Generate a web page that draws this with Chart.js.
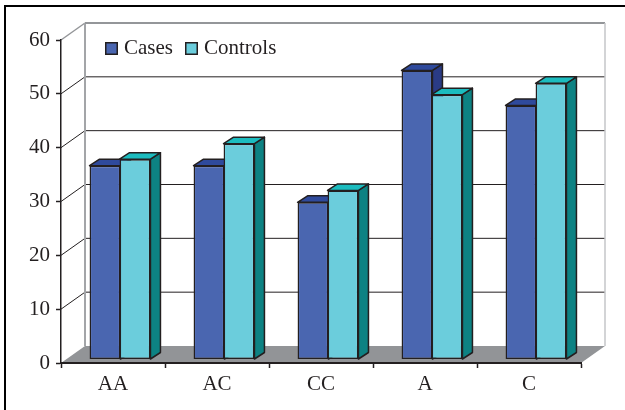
<!DOCTYPE html>
<html>
<head>
<meta charset="utf-8">
<script src="https://cdn.jsdelivr.net/npm/chart.js@4"></script>
<style>
html, body { margin: 0; padding: 0; background: #fff; overflow: hidden; }
canvas { position: absolute; left: 0; top: 0; }
#frame { position: absolute; left: 4px; top: 5px; right: 0; bottom: 0; border-left: 2px solid #000; border-top: 2px solid #000; }
</style>
</head>
<body>
<canvas id="myChart" width="625" height="410"></canvas>
<div id="frame"></div>
<script>
const categories = ['AA', 'AC', 'CC', 'A', 'C'];
const cases = [36, 36, 29.2, 53.7, 47.2];
const controls = [37.2, 40.1, 31.4, 49.2, 51.3];

const ink = '#231f20';
// wall depth, and how far the bars stand in from the front edge of the floor
const wallDepth = { x: 24, y: -17 };
const barShift = { x: 7, y: -3.5 };
const barDepth = { x: 10, y: -6.5 };
const faces = [
    { top: '#2f4a9c', side: '#2a3b85' },
    { top: '#1cbcbf', side: '#0d8283' }
];

function poly(ctx, pts, fill, stroke, width) {
    ctx.beginPath();
    pts.forEach((p, i) => i ? ctx.lineTo(p[0], p[1]) : ctx.moveTo(p[0], p[1]));
    ctx.closePath();
    if (fill) {
        ctx.fillStyle = fill;
        ctx.fill();
    }
    if (stroke) {
        ctx.strokeStyle = stroke;
        ctx.lineWidth = width;
        ctx.lineJoin = 'round';
        ctx.stroke();
    }
}

function line(ctx, x1, y1, x2, y2, color, width) {
    ctx.beginPath();
    ctx.moveTo(x1, y1);
    ctx.lineTo(x2, y2);
    ctx.strokeStyle = color;
    ctx.lineWidth = width;
    ctx.stroke();
}

// legend swatch as an image, so it can sit closer to its text than a plain legend box
function swatch(color) {
    const c = document.createElement('canvas');
    c.width = 13;
    c.height = 13;
    const g = c.getContext('2d');
    g.fillStyle = color;
    g.fillRect(0, 0, 13, 13);
    g.strokeStyle = ink;
    g.lineWidth = 1.5;
    g.strokeRect(0.75, 0.75, 11.5, 11.5);
    return c;
}

const box3d = {
    id: 'box3d',
    beforeLayout(chart) {
        // legend sits inside the plot, so it must not take layout room
        const legend = chart.legend;
        if (!legend._flat) {
            const fit = legend.fit;
            legend.fit = function () {
                fit.call(this);
                this.height = 0;
            };
            legend._flat = true;
        }
    },
    afterLayout(chart) {
        const legend = chart.legend;
        legend.left = 93;
        legend.right = 400;
        legend.top = 21.5;
        legend.bottom = 70;
    },
    beforeDraw(chart) {
        const ctx = chart.ctx;
        const { left, right } = chart.chartArea;
        const y = chart.scales.y;
        const dx = wallDepth.x, dy = wallDepth.y;
        const y0 = y.getPixelForValue(0);
        const top = y.getPixelForValue(60);
        poly(ctx, [[left, y0], [left + dx, y0 + dy], [right + dx, y0 + dy], [right, y0]], '#929497');
        y.ticks.forEach(t => {
            if (t.value === 0 || t.value === 60) return;
            const py = y.getPixelForValue(t.value);
            line(ctx, left, py, left + dx, py + dy, ink, 1);
            line(ctx, left + dx, py + dy, right + dx, py + dy, ink, 1);
        });
        line(ctx, left, top, left + dx, top + dy, '#949699', 1.5);
        line(ctx, left + dx, top + dy, left + dx, y0 + dy, '#a3a5a8', 2);
        line(ctx, left + dx, top + dy, right + dx, top + dy, '#949699', 2);
        line(ctx, right + dx, top + dy, right + dx, y0 + dy, '#c4c6c8', 1.5);
    },
    // Cases first, Controls over them, each with its side and top faces
    beforeDatasetsDraw(chart) {
        const ctx = chart.ctx;
        ctx.save();
        ctx.translate(barShift.x, barShift.y);
        chart.data.datasets.forEach((d, i) => {
            const meta = chart.getDatasetMeta(i);
            meta.controller.draw();
            meta.data.forEach(bar => {
                const l = bar.x - bar.width / 2, r = bar.x + bar.width / 2;
                const t = bar.y, b = bar.base;
                const dx = barDepth.x, dy = barDepth.y;
                poly(ctx, [[r, t], [r + dx, t + dy], [r + dx, b + dy], [r, b]], faces[i].side, ink, 1.5);
                poly(ctx, [[l, t], [l + dx, t + dy], [r + dx, t + dy], [r, t]], faces[i].top, ink, 1.5);
            });
        });
        ctx.restore();
        return false;
    }
};

const ctx = document.getElementById('myChart').getContext('2d');

new Chart(ctx, {
    type: 'bar',
    data: {
        labels: categories,
        datasets: [
            { label: 'Cases', data: cases, backgroundColor: '#4a66b0' },
            { label: 'Controls', data: controls, backgroundColor: '#6bcddc' }
        ]
    },
    options: {
        responsive: false,
        animation: false,
        layout: { padding: { top: 40, right: 44, left: 0, bottom: 0 } },
        datasets: {
            bar: {
                categoryPercentage: 60 / 104,
                barPercentage: 1.03,
                borderColor: ink,
                borderWidth: 1.5,
                borderSkipped: false
            }
        },
        scales: {
            x: {
                afterFit(scale) { scale.height = 47; },
                border: { color: ink, width: 2 },
                grid: { drawOnChartArea: false, color: ink, tickColor: ink, tickLength: 5, tickWidth: 1.5 },
                ticks: { color: ink, padding: 4, maxRotation: 0, font: { family: 'Liberation Serif', size: 21 } }
            },
            y: {
                min: 0,
                max: 60,
                afterFit(scale) { scale.width = 61; },
                border: { color: ink, width: 1.5 },
                grid: { drawOnChartArea: false, color: ink, tickColor: ink, tickLength: 5, tickWidth: 1.5 },
                ticks: { stepSize: 10, color: ink, padding: 6, font: { family: 'Liberation Serif', size: 21 } }
            }
        },
        plugins: {
            tooltip: { enabled: false },
            legend: {
                position: 'top',
                align: 'start',
                labels: {
                    color: ink,
                    usePointStyle: true,
                    boxWidth: 4,
                    padding: 16.5,
                    font: { family: 'Liberation Serif', size: 21 },
                    generateLabels(chart) {
                        return chart.data.datasets.map((d, i) => ({
                            text: d.label,
                            pointStyle: swatch(d.backgroundColor),
                            fontColor: ink,
                            datasetIndex: i
                        }));
                    }
                }
            }
        }
    },
    plugins: [box3d]
});
</script>
</body>
</html>
